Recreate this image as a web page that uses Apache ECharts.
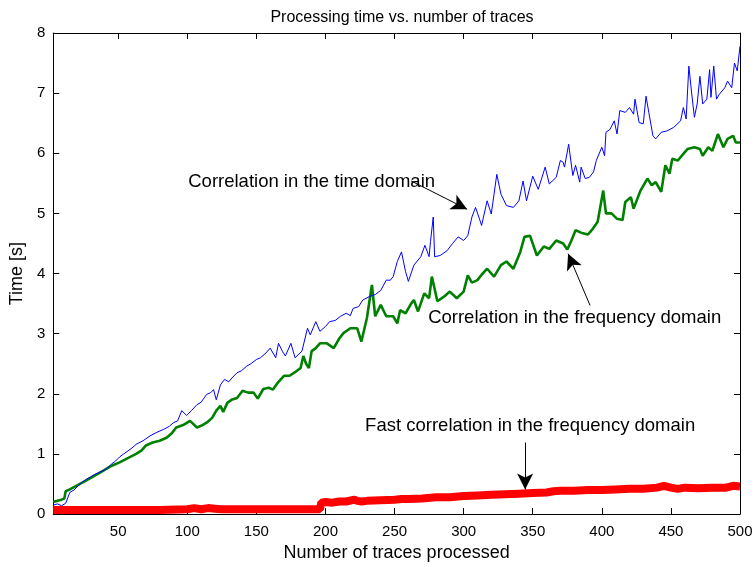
<!DOCTYPE html>
<html>
<head>
<meta charset="utf-8">
<script src="https://cdn.jsdelivr.net/npm/echarts@6/dist/echarts.min.js"></script>
<style>html,body{margin:0;padding:0;background:#fff}#c{width:756px;height:567px}</style>
</head>
<body>
<div id="c"></div>
<script>
// ---- data ----
const xTicks = [50,100,150,200,250,300,350,400,450,500];
const yTicks = [0,1,2,3,4,5,6,7,8];

const timeX = [3,6,9,12,15,18,21,24,27,30,33,36,39,42,45,48,51,54,57,60,63,68,73,78,83,87,90,93,96,99.5,103,107,110,114,117,119,121,124,127,130,133,136,139,143,146,150,153,157,160,164,166,169,171,175,178,183,187,189,193,196,200,203,207,211,215,218,220,224,227,232,236,240,244,247,249,252,255,258,260,264,269,272,275,276,278,279,283,288,292,296,300,303,306,308.6,311,313,317,320,324,327,331,336,340,343,345.5,350,354,359,362,367,370,372,373,376,379,381,384,385,388,391,394,396,400,402,403,406,409,411,413,417,420,423,424,427,430,432,434,437,439,443,447,452,457,459,461,463,465,467,469,471,473,476,478,479,481,483,485,489,491,494,496,498,500];
const timeY = [0.15,0.17,0.14,0.18,0.36,0.40,0.47,0.53,0.58,0.62,0.66,0.69,0.72,0.76,0.83,0.88,0.95,1.0,1.05,1.1,1.16,1.22,1.30,1.36,1.41,1.46,1.52,1.55,1.72,1.64,1.72,1.82,1.86,1.99,2.02,2.07,1.9,2.15,2.24,2.2,2.28,2.35,2.38,2.46,2.5,2.57,2.6,2.68,2.76,2.6,2.84,2.7,2.63,2.84,2.6,2.71,3.09,2.98,3.2,3.04,3.12,3.2,3.22,3.29,3.34,3.3,3.42,3.45,3.56,3.62,3.65,3.72,3.89,3.89,3.95,4.2,4.36,4.03,3.87,4.14,4.28,4.47,4.28,4.53,4.94,4.28,4.3,4.38,4.5,4.61,4.55,4.63,4.94,5.1,4.94,4.8,5.21,4.99,5.65,5.32,5.13,5.1,5.21,5.54,5.21,5.62,5.4,5.77,5.49,5.6,5.88,5.85,5.77,6.15,5.63,5.8,5.52,5.77,5.58,5.6,5.69,5.88,6.1,5.96,6.35,6.4,6.54,6.32,6.71,6.68,6.76,6.65,6.9,6.51,6.49,6.95,6.68,6.29,6.24,6.35,6.37,6.43,6.54,6.76,6.57,7.45,7.0,6.6,6.82,7.28,6.82,6.9,7.39,6.93,7.45,6.9,6.98,7.09,7.2,7.09,7.5,7.37,7.78];

const freqX = [3,6,9,11,12,14,18,22,27,33,39,45,51,57,63,67,70,75,80,85,89,92,97,102,107,111,114,118,121,124,126,129,132,136,140,144,148,151,155,159,162,166,170,174,178,182,184,186,188,190,193,196,201,206,210,213,218,223,226,230,233.6,236,240,244,249,252,254,258,262,264,267,271.5,275,277,281,286,290,295,300,303,306,310,313,317,322,327,331,336,341,344,348,353,358,362,367,372,375,378,381,385,390,393,397,401,403,407,411,415,417,421,423,428,433,436,439,443,446,449,451,455,459,462,467,471,473,477,480,484,488,491,495,497,500];
const freqY = [0.2,0.22,0.24,0.26,0.38,0.4,0.45,0.5,0.56,0.64,0.72,0.8,0.86,0.93,1.0,1.06,1.14,1.19,1.22,1.27,1.35,1.44,1.48,1.55,1.44,1.48,1.52,1.6,1.72,1.8,1.7,1.85,1.9,1.93,2.05,2.02,2.02,1.92,2.08,2.1,2.07,2.2,2.3,2.3,2.36,2.43,2.63,2.5,2.43,2.71,2.76,2.84,2.84,2.76,2.92,3.01,3.09,3.09,2.87,3.26,3.81,3.29,3.48,3.29,3.29,3.17,3.39,3.34,3.5,3.56,3.37,3.67,3.59,3.95,3.54,3.62,3.7,3.59,3.7,3.97,3.85,3.89,3.98,4.08,3.95,4.14,4.2,4.08,4.36,4.61,4.63,4.3,4.45,4.41,4.55,4.5,4.4,4.55,4.72,4.68,4.65,4.73,4.86,5.38,5.0,5.0,4.91,4.89,5.19,5.27,5.08,5.38,5.58,5.47,5.52,5.36,5.8,5.66,5.91,5.88,5.99,6.07,6.1,6.07,5.96,6.1,6.04,6.32,6.1,6.24,6.29,6.18,6.18];

const fastX = [3,20,40,60,80,100,105,110,115,120,125,130,150,170,190,196,197,200,205,210,215,221,223,226,230,240,250,255,260,270,280,290,300,310,320,330,340,350,360,365,370,380,390,400,410,420,430,440,445,450,455,460,470,480,490,495,500];
const fastY = [0.07,0.07,0.07,0.07,0.07,0.08,0.1,0.08,0.1,0.09,0.08,0.08,0.08,0.08,0.08,0.08,0.19,0.2,0.19,0.21,0.21,0.24,0.22,0.21,0.22,0.23,0.24,0.25,0.25,0.26,0.28,0.28,0.3,0.31,0.32,0.33,0.34,0.35,0.36,0.38,0.39,0.39,0.4,0.4,0.41,0.42,0.42,0.44,0.47,0.44,0.42,0.44,0.43,0.44,0.44,0.47,0.46];

// annotations (data coordinates)
const annTexts = ['Correlation in the time domain','Correlation in the frequency domain','Fast correlation in the frequency domain'];
const annTextPos = [[100.7,5.52],[274.3,3.26],[228.7,1.47]];
const annArrows = [[[262,5.54],[302.5,5.07]],[[391.5,3.47],[375.6,4.33]],[[344.5,1.19],[344.5,0.41]]];

const FONT = '"Liberation Sans", Arial, Helvetica, sans-serif';
const zip = (xs, ys) => xs.map((x,i)=>[x, ys[i]]);

const chart = echarts.init(document.getElementById('c'), null, {renderer:'canvas'});
const axisCommon = {
  axisLine:{show:true, onZero:false, lineStyle:{color:'#000', width:1}},
  splitLine:{show:false}
};
const option = {
  animation:false,
  backgroundColor:'#fff',
  title:{text:'Processing time vs. number of traces', left:397, textAlign:'center', top:5,
    textStyle:{fontFamily:FONT, fontSize:16, fontWeight:'normal', color:'#000'}},
  grid:{left:53, right:16, top:33, bottom:50, containLabel:false},
  xAxis:[
    Object.assign({type:'value', min:3, max:500, position:'bottom',
      name:'Number of traces processed', nameLocation:'middle', nameGap:25,
      nameTextStyle:{fontFamily:FONT, fontSize:18, color:'#000'},
      axisTick:{show:true, inside:true, length:6, customValues:xTicks, lineStyle:{color:'#000'}},
      axisLabel:{show:true, customValues:xTicks, margin:10, fontFamily:FONT, fontSize:15, color:'#000'}}, axisCommon),
    Object.assign({type:'value', min:3, max:500, position:'top',
      axisTick:{show:true, inside:true, length:6, customValues:xTicks, lineStyle:{color:'#000'}},
      axisLabel:{show:false}}, axisCommon)
  ],
  yAxis:[
    Object.assign({type:'value', min:0, max:8, interval:1, position:'left',
      name:'Time [s]', nameLocation:'middle', nameGap:26,
      nameTextStyle:{fontFamily:FONT, fontSize:18, color:'#000'},
      axisTick:{show:true, inside:true, length:6, lineStyle:{color:'#000'}},
      axisLabel:{show:true, margin:8, fontFamily:FONT, fontSize:15, color:'#000'}}, axisCommon),
    Object.assign({type:'value', min:0, max:8, interval:1, position:'right',
      axisTick:{show:true, inside:true, length:6, lineStyle:{color:'#000'}},
      axisLabel:{show:false}}, axisCommon)
  ],
  series:[
    {type:'line', name:'fast', data:zip(fastX, fastY), showSymbol:false, symbol:'none',
      lineStyle:{color:'#ff0000', width:8}, z:3},
    {type:'line', name:'freq', data:zip(freqX, freqY), showSymbol:false, symbol:'none',
      lineStyle:{color:'#008000', width:2.6}, z:4},
    {type:'line', name:'time', data:zip(timeX, timeY), showSymbol:false, symbol:'none',
      lineStyle:{color:'#0000ff', width:1}, z:5,
      markLine:{silent:true, animation:false, symbol:['none','arrow'], symbolSize:[12,16],
        label:{show:false}, lineStyle:{color:'#000', width:1, type:'solid'},
        emphasis:{disabled:true},
        data: annArrows.map(a => [{coord:a[0]},{coord:a[1]}])}
    }
  ]
};
chart.setOption(option);

const graphics = annTexts.map((t,i)=>{
  const p = chart.convertToPixel({xAxisIndex:0, yAxisIndex:0}, annTextPos[i]);
  return {type:'text', x:p[0], y:p[1], z:100,
    style:{text:t, fontFamily:FONT, fontSize:18.5, fill:'#000', textAlign:'left', textVerticalAlign:'middle'}};
});
chart.setOption({graphic:graphics});
</script>
</body>
</html>
